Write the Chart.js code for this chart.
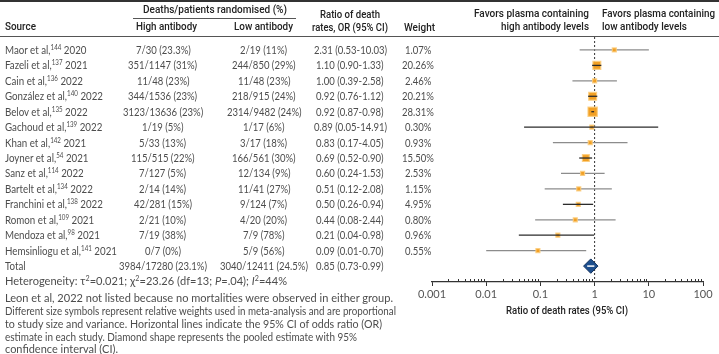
<!DOCTYPE html>
<html><head><meta charset="utf-8">
<script src="https://cdn.jsdelivr.net/npm/chart.js@4.4.0/dist/chart.umd.min.js"></script>
<style>
html,body{margin:0;padding:0;background:#fff;}
#wrap{position:relative;width:719px;height:354px;overflow:hidden;}
#c{position:absolute;left:0;top:0;}
#txt{position:absolute;left:0;top:0;width:719px;height:354px;pointer-events:none;}
.t{position:absolute;white-space:nowrap;line-height:14px;height:14px;font-family:Lato,sans-serif;font-size:11px;color:#4d4d4d;transform-origin:0 50%;}
.num{font-size:10.5px;}
.h{font-family:Roboto,sans-serif;font-weight:500;color:#222;font-size:11px;}
.fn{font-size:10.8px;color:#4d4d4d;}
sup{font-size:7px;vertical-align:baseline;position:relative;top:-4px;line-height:1;}
.rule{position:absolute;background:#444;}
</style></head>
<body><div id="wrap"><canvas id="c" width="719" height="354"></canvas><div id="txt"></div></div>
<script>
// ---------------- data ----------------
const studies = ["Maor et al","Fazeli et al","Cain et al","González et al","Belov et al","Gachoud et al","Khan et al","Joyner et al","Sanz et al","Bartelt et al","Franchini et al","Romon et al","Mendoza et al","Hemsinliogu et al"];
const refs = ["144","137","136","140","135","139","142","54","114","134","138","109","98","141"];
const years = ["2020","2021","2022","2022","2022","2022","2021","2021","2022","2022","2022","2021","2021","2021"];
const highAb = ["7/30 (23.3%)","351/1147 (31%)","11/48 (23%)","344/1536 (23%)","3123/13636 (23%)","1/19 (5%)","5/33 (13%)","115/515 (22%)","7/127 (5%)","2/14 (14%)","42/281 (15%)","2/21 (10%)","7/19 (38%)","0/7 (0%)"];
const lowAb = ["2/19 (11%)","244/850 (29%)","11/48 (23%)","218/915 (24%)","2314/9482 (24%)","1/17 (6%)","3/17 (18%)","166/561 (30%)","12/134 (9%)","11/41 (27%)","9/124 (7%)","4/20 (20%)","7/9 (78%)","5/9 (56%)"];
const oddsRatio = [2.31,1.10,1.00,0.92,0.92,0.89,0.83,0.69,0.60,0.51,0.50,0.44,0.21,0.09];
const ciLow = [0.53,0.90,0.39,0.76,0.87,0.05,0.17,0.52,0.24,0.12,0.26,0.08,0.04,0.01];
const ciHigh = [10.03,1.33,2.58,1.12,0.98,14.91,4.05,0.90,1.53,2.08,0.94,2.44,0.98,0.70];
const weights = [1.07,20.26,2.46,20.21,28.31,0.30,0.93,15.50,2.53,1.15,4.95,0.80,0.96,0.55];
const totalHigh = "3984/17280 (23.1%)";
const totalLow = "3040/12411 (24.5%)";
const totalOR = [0.85];
const totalCiLow = [0.73];
const totalCiHigh = [0.99];
const tickValues = [0.001,0.01,0.1,1,10,100];
const tickLabels = ["0.001","0.01","0.1","1","10","100"];

// ---------------- styles ----------------
const lineDark = [false,true,false,true,true,true,false,true,false,false,true,false,true,false];
const DARK = '#2b2b2b', GRAY = '#8c8c8c';
const yMin = -0.84, yMax = 15.03;

function sideFor(w){ return Math.max(4, 1.75*Math.sqrt(w)); }

const datasets = [];
datasets.push({type:'scatter', showLine:true, data:[{x:totalCiLow[0],y:studies.length},{x:totalCiHigh[0],y:studies.length}], borderColor:'#ffffff', borderWidth:1.5, pointRadius:0});
datasets.push({type:'scatter', data:[{x:totalOR[0],y:studies.length}], pointStyle:'rectRot', pointRadius:7.2, backgroundColor:'#1d4f8e', borderColor:'#0f2f5c', borderWidth:1});
studies.forEach((s,i)=>{ if(lineDark[i]) datasets.push({type:'scatter', showLine:true, data:[{x:ciLow[i],y:i},{x:ciHigh[i],y:i}], borderColor:DARK, borderWidth:1.3, pointRadius:0}); });
datasets.push({type:'scatter', data:oddsRatio.map((v,i)=>({x:v,y:i})), pointStyle:'rect',
  pointRadius: ctx => sideFor(weights[ctx.dataIndex]) / Math.SQRT2,
  backgroundColor:'#f2a024', borderColor:'rgba(251,205,125,0.85)', borderWidth:1.2});
studies.forEach((s,i)=>{ if(!lineDark[i]) datasets.push({type:'scatter', showLine:true, data:[{x:ciLow[i],y:i},{x:ciHigh[i],y:i}], borderColor:GRAY, borderWidth:1.3, pointRadius:0}); });
datasets.push({type:'scatter', showLine:true, data:[{x:1,y:yMin},{x:1,y:yMax}], borderColor:'#333', borderWidth:1, borderDash:[2,2], pointRadius:0});

const minorTicks = {
  id:'minorTicks',
  afterDraw(chart){
    const s = chart.scales.x, ctx = chart.ctx;
    ctx.save(); ctx.strokeStyle = '#333'; ctx.lineWidth = 1;
    for (let d = 0; d < tickValues.length-1; d++) {
      for (let k = 2; k <= 9; k++) {
        const px = Math.round(s.getPixelForValue(tickValues[d]*k)) + 0.5;
        ctx.beginPath(); ctx.moveTo(px, s.top); ctx.lineTo(px, s.top-3); ctx.stroke();
      }
    }
    ctx.restore();
  }
};

const chart = new Chart(document.getElementById('c'), {
  type:'scatter',
  data:{datasets},
  options:{
    responsive:false, animation:false, devicePixelRatio:1,
    layout:{padding:{left:432, right:16, top:37, bottom:42}},
    plugins:{legend:{display:false}, tooltip:{enabled:false}},
    clip:false,
    scales:{
      x:{type:'logarithmic', min:0.001, max:100, position:'bottom',
        afterBuildTicks: s => { s.ticks = tickValues.map(v=>({value:v, major:true})); },
        afterFit: s => { s.height = 30; },
        border:{display:true, color:'#333', width:1.2},
        grid:{drawOnChartArea:false, drawTicks:true, tickLength:4, color:'#333', tickColor:'#333', tickWidth:1},
        ticks:{autoSkip:false, maxRotation:0, padding:2, color:'#555', font:{family:'Lato', size:11}, callback:(v,i)=>tickLabels[i]}
      },
      y:{type:'linear', min:yMin, max:yMax, reverse:true, display:false}
    }
  },
  plugins:[minorTicks]
});

// ---------------- text ----------------
const txt = document.getElementById('txt');
function measure(html, cls){
  const d=document.createElement('div'); d.className='t '+(cls||''); d.innerHTML=html; txt.appendChild(d);
  const w=d.getBoundingClientRect().width; txt.removeChild(d); return w;
}
// align: 'l' | 'c' | 'r'; sx: horizontal scale; fitW: fit to width
function add(html, x, y, cls, align, sx, fitW){
  const d=document.createElement('div'); d.className='t '+(cls||'');
  d.style.top=(y-7)+'px'; d.innerHTML=html; txt.appendChild(d);
  const w = d.getBoundingClientRect().width;
  let k = sx || 1;
  if (fitW && w > 0) k = fitW / w;
  const sw = w*k;
  align = align || 'l';
  const left = align==='l' ? x : align==='c' ? x - sw/2 : x - sw;
  d.style.left = left+'px';
  d.style.transform = 'scaleX('+k.toFixed(4)+')';
  return d;
}
function rule(x,y,w,h,c){ const d=document.createElement('div'); d.className='rule'; d.style.left=x+'px'; d.style.top=y+'px'; d.style.width=w+'px'; d.style.height=h+'px'; if(c) d.style.background=c; txt.appendChild(d); }

rule(0,0,719,2,'#333');
rule(0,36,719,1,'#555');
rule(133,18,163,1,'#555');
add('Deaths/patients randomised (%)',215,10,'h','c',0,144);
add('Source',5,27,'h','l',0,31);
add('High antibody',166,27,'h','c',0,61);
add('Low antibody',263,27,'h','c',0,59);
add('Ratio of death',350,15,'h','c',0,60);
add('rates, OR (95% CI)',350,28,'h','c',0,76);
add('Weight',419,28,'h','c',0,31);
add('Favors plasma containing',589,14,'h','r',0,115);
add('high antibody levels',589,27,'h','r',0,88);
add('Favors plasma containing',602,14,'h','l',0,113);
add('low antibody levels',602,27,'h','l',0,85);

const fmt = v => v.toFixed(2);
const kNum = 73 / measure('2.31 (0.53-10.03)','num');
const kName = 98 / measure('González et al,<sup>140</sup> 2022','');
const ys = chart.scales.y;
studies.forEach((s,i)=>{
  const y = ys.getPixelForValue(i);
  add(`${s},<sup>${refs[i]}</sup> ${years[i]}`,5,y,'','l',kName);
  add(highAb[i],163,y,'num','c',kNum);
  add(lowAb[i],264,y,'num','c',kNum);
  add(`${fmt(oddsRatio[i])} (${fmt(ciLow[i])}-${fmt(ciHigh[i])})`,350,y,'num','c',kNum);
  add(`${fmt(weights[i])}%`,418,y,'num','c',kNum);
});
const yt = ys.getPixelForValue(studies.length);
add('Total',5,yt,'','l',kName);
add(totalHigh,163,yt,'num','c',kNum);
add(totalLow,264,yt,'num','c',kNum);
add(`${fmt(totalOR[0])} (${fmt(totalCiLow[0])}-${fmt(totalCiHigh[0])})`,350,yt,'num','c',kNum);

add('Heterogeneity: τ<sup>2</sup>=0.021; χ<sup>2</sup>=23.26 (df=13; <i>P</i>=.04); <i>I</i><sup>2</sup>=44%',5,281,'fn','l',0,282);
const notes = ["Leon et al, 2022 not listed because no mortalities were observed in either group.",
"Different size symbols represent relative weights used in meta-analysis and are proportional",
"to study size and variance. Horizontal lines indicate the 95% CI of odds ratio (OR)",
"estimate in each study. Diamond shape represents the pooled estimate with 95%",
"confidence interval (CI)."];
const noteY = [298,311,324,337,349];
const noteW = [388,391,377,352,113];
notes.forEach((n,i)=>add(n,5,noteY[i],'fn','l',0,noteW[i]));
add('Ratio of death rates (95% CI)',567,311,'h','c',0,122);
</script>
</body></html>
